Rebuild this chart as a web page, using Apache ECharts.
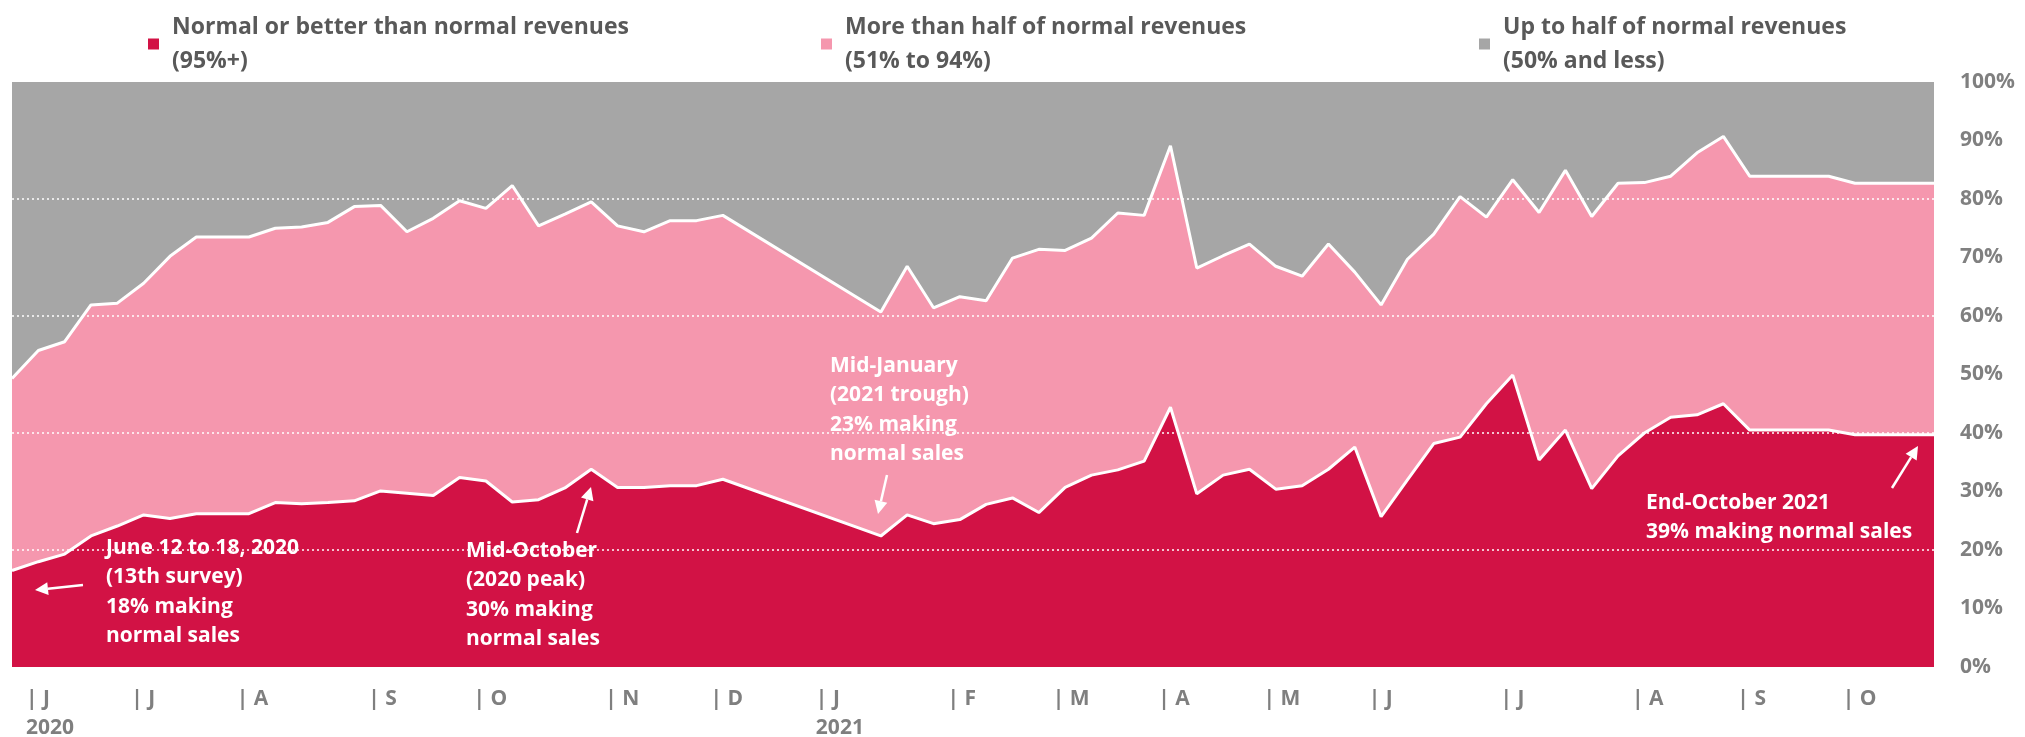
<!DOCTYPE html>
<html lang="en">

<head>
  <meta charset="UTF-8">
  <title>Revenue levels</title>
  <script src="https://cdn.jsdelivr.net/npm/echarts@6.0.0/dist/echarts.min.js"></script>
  <style>
    html, body { margin: 0; padding: 0; background: #fff; }
    #chart { width: 2025px; height: 737px; }
  </style>
</head>

<body>
  <div id="chart"></div>
  <script>
    // weekly survey slots, first one is June 12 to 18, 2020
    const weeks = []
    for (let i = 0; i < 74; i++) {
      const d = new Date(Date.UTC(2020, 5, 12 + i * 7))
      weeks.push(d.toISOString().slice(0, 10))
    }

    const seriesNames = [
      'Normal or better than normal revenues',
      'More than half of normal revenues',
      'Up to half of normal revenues'
    ]
    const seriesSub = ['(95%+)', '(51% to 94%)', '(50% and less)']

    // shares in %, no survey over the holidays (nulls)
    const normal = [16.5, 18.0, 19.3, 22.4, 24.1, 26.0, 25.4, 26.2, 26.2, 26.2, 28.1, 27.9, 28.1, 28.4, 30.1, 29.7, 29.3, 32.4, 31.8, 28.2,
      28.6, 30.6, 33.8, 30.7, 30.7, 31.0, 31.0, 32.1, null, null, null, null, null,
      22.4, 26.0, 24.5, 25.2, 27.8, 28.9, 26.4, 30.7, 32.8, 33.7, 35.2, 44.4, 29.6, 32.8, 33.8, 30.4, 31.0, 33.8, 37.6, 25.7,
      32.0, 38.2, 39.3, 45.0, 49.9, 35.4, 40.5, 30.5, 36.1, 40.0, 42.7, 43.1, 45.0, 40.5, 40.5, 40.5, 40.5, 39.7, 39.7, 39.7, 39.7]
    const moreThanHalf = [32.8, 36.1, 36.3, 39.5, 38.1, 39.6, 44.8, 47.3, 47.3, 47.3, 46.9, 47.3, 47.9, 50.3, 48.8, 44.7, 47.4, 47.3, 46.6, 54.1,
      46.8, 46.8, 45.7, 44.7, 43.7, 45.3, 45.3, 45.1, null, null, null, null, null,
      38.3, 42.5, 36.9, 38.1, 34.8, 41.0, 45.0, 40.5, 40.5, 43.9, 42.0, 44.7, 38.6, 37.5, 38.5, 38.1, 35.8, 38.5, 29.9, 36.2,
      37.7, 35.8, 41.1, 31.9, 33.4, 42.3, 44.4, 46.5, 46.6, 42.8, 41.2, 44.8, 45.7, 43.4, 43.4, 43.4, 43.4, 43.0, 43.0, 43.0, 43.0]
    const upToHalf = [50.7, 45.9, 44.4, 38.1, 37.8, 34.4, 29.8, 26.5, 26.5, 26.5, 25.0, 24.8, 24.0, 21.3, 21.1, 25.6, 23.3, 20.3, 21.6, 17.7,
      24.6, 22.6, 20.5, 24.6, 25.6, 23.7, 23.7, 22.8, null, null, null, null, null,
      39.3, 31.5, 38.6, 36.7, 37.4, 30.1, 28.6, 28.8, 26.7, 22.4, 22.8, 10.9, 31.8, 29.7, 27.7, 31.5, 33.2, 27.7, 32.5, 38.1,
      30.3, 26.0, 19.6, 23.1, 16.7, 22.3, 15.1, 23.0, 17.3, 17.2, 16.1, 12.1, 9.3, 16.1, 16.1, 16.1, 16.1, 17.3, 17.3, 17.3, 17.3]

    // month labels and the week slot they sit on
    const monthTickIndex = [0, 4, 8, 13, 17, 22, 26, 30, 35, 39, 43, 47, 51, 56, 61, 65, 69]
    const monthLabels = ['J', 'J', 'A', 'S', 'O', 'N', 'D', 'J', 'F', 'M', 'A', 'M', 'J', 'J', 'A', 'S', 'O']
    const yearLabels = { 0: '2020', 30: '2021' }
    const gridLines = [20, 40, 60, 80]

    const colors = ['#D21245', '#F597AE', '#A6A6A6']
    const font = '"Open Sans", sans-serif'

    const annotations = [
      { x: 106, y: 533, text: 'June 12 to 18, 2020\n(13th survey)\n18% making\nnormal sales' },
      { x: 466, y: 536, text: 'Mid-October\n(2020 peak)\n30% making\nnormal sales' },
      { x: 830, y: 351, text: 'Mid-January\n(2021 trough)\n23% making\nnormal sales' },
      { x: 1646, y: 488, text: 'End-October 2021\n39% making normal sales' }
    ]
    const arrows = [
      [83, 585, 35, 590],
      [577, 533, 591, 487],
      [887, 475, 878, 514],
      [1892, 488, 1918, 446]
    ]

    function arrowGraphic(a) {
      const [x1, y1, x2, y2] = a
      const ang = Math.atan2(y2 - y1, x2 - x1)
      const len = 13, half = 6.5
      const bx = x2 - Math.cos(ang) * len, by = y2 - Math.sin(ang) * len
      const px = -Math.sin(ang) * half, py = Math.cos(ang) * half
      return [
        { type: 'line', shape: { x1: x1, y1: y1, x2: bx, y2: by }, style: { stroke: '#fff', lineWidth: 2.5 }, z: 100 },
        { type: 'polygon', shape: { points: [[x2, y2], [bx + px, by + py], [bx - px, by - py]] }, style: { fill: '#fff' }, z: 100 }
      ]
    }

    let graphics = []
    annotations.forEach(function (a) {
      graphics.push({
        type: 'text', left: a.x, top: a.y, z: 100,
        style: { text: a.text, fill: '#fff', font: 'bold 21px ' + font, lineHeight: 29.5 }
      })
    })
    arrows.forEach(function (a) { graphics = graphics.concat(arrowGraphic(a)) })

    const legendLeft = [148, 821, 1479]
    const legends = seriesNames.map(function (n, i) {
      return {
        data: [n],
        left: legendLeft[i],
        top: -7,
        padding: 0,
        icon: 'rect',
        itemWidth: 11,
        itemHeight: 11,
        selectedMode: false,
        itemStyle: { borderWidth: 0 },
        formatter: function (name) { return name + '\n' + seriesSub[i] },
        textStyle: {
          color: '#595959',
          fontFamily: font,
          fontWeight: 'bold',
          fontSize: 23,
          lineHeight: 34,
          padding: [34, 0, 0, 8]
        }
      }
    })

    // only surveyed weeks get a point, so the holiday gap is a straight line
    const dataSets = [normal, moreThanHalf, upToHalf]
    const series = dataSets.map(function (d, i) {
      return {
        name: seriesNames[i],
        type: 'line',
        stack: 'total',
        data: d.map(function (v, k) { return [k, v] }).filter(function (p) { return p[1] !== null }),
        symbol: 'none',
        itemStyle: { color: colors[i] },
        lineStyle: { color: '#fff', width: i < 2 ? 3 : 0 },
        areaStyle: { color: colors[i], opacity: 1 },
        emphasis: { disabled: true }
      }
    })
    // dotted grid lines drawn over the areas
    series.push({
      type: 'line',
      data: [],
      markLine: {
        silent: true,
        symbol: 'none',
        label: { show: false },
        lineStyle: { color: '#fff', type: [2, 3], width: 1.5 },
        data: gridLines.map(function (v) { return { yAxis: v } })
      }
    })

    let myChart = echarts.init(document.getElementById('chart'))
    let option = {
      animation: false,
      legend: legends,
      grid: { left: 12, right: 91, top: 82, bottom: 70, outerBoundsMode: 'none' },
      xAxis: {
        type: 'category',
        data: weeks,
        boundaryGap: false,
        axisLine: { show: false },
        axisTick: { show: false },
        axisLabel: {
          interval: function (idx) { return monthTickIndex.indexOf(idx) >= 0 },
          formatter: function (val, idx) {
            const k = monthTickIndex.indexOf(idx)
            let s = '| ' + monthLabels[k]
            if (yearLabels[idx]) s += '\n' + yearLabels[idx]
            return s
          },
          align: 'left',
          verticalAlign: 'top',
          padding: [0, 0, 0, 14],
          margin: 18,
          color: '#7F7F7F',
          fontFamily: font,
          fontWeight: 'bold',
          fontSize: 21,
          lineHeight: 29
        }
      },
      yAxis: {
        type: 'value',
        position: 'right',
        min: 0,
        max: 100,
        interval: 10,
        splitLine: { show: false },
        axisLine: { show: false },
        axisTick: { show: false },
        axisLabel: {
          formatter: '{value}%',
          align: 'left',
          margin: 26,
          color: '#808080',
          fontFamily: font,
          fontWeight: 'bold',
          fontSize: 21
        }
      },
      series: series,
      graphic: graphics
    }

    myChart.setOption(option)
  </script>
</body>

</html>
